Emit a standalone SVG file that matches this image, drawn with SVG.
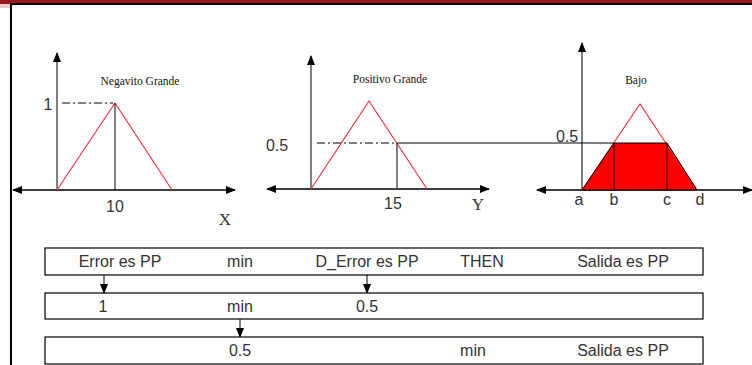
<svg xmlns="http://www.w3.org/2000/svg" width="752" height="365" viewBox="0 0 752 365">
<style>
.ax{stroke:#000;stroke-width:1.2;fill:none}
.yax{stroke:#555;stroke-width:1.5;fill:none}
.mf{stroke:#ff3333;stroke-width:1.2;fill:none}
.ln{stroke:#000;stroke-width:1;fill:none}
.dd{stroke:#000;stroke-width:1;stroke-dasharray:8 3 2 3;fill:none}
.box{fill:#fff;stroke:#000;stroke-width:1.2}
.t{font-family:"Liberation Sans",Arial,sans-serif;font-size:16px;fill:#333}
.s{font-family:"Liberation Serif","Times New Roman",serif;font-size:11.5px;fill:#111}
.sx{font-family:"Liberation Serif","Times New Roman",serif;font-size:17px;fill:#333}
</style>
<defs>
<marker id="ar" markerWidth="10" markerHeight="10" refX="9" refY="5" orient="auto" markerUnits="userSpaceOnUse">
<path d="M0,1 L10,5 L0,9 Z" fill="#000"/>
</marker>
</defs>
<rect width="752" height="365" fill="#fff"/>
<rect x="0" y="0" width="752" height="4" fill="#9b1620"/>
<rect x="0" y="4" width="11" height="4" fill="#e8c8c8"/>
<rect x="10" y="3" width="742" height="2" fill="#000"/>
<rect x="10" y="4" width="2" height="361" fill="#000"/>

<g id="chart-negativo">
<line class="ax" x1="13" y1="190" x2="235" y2="190" marker-end="url(#ar)"/>
<line class="ax" x1="235" y1="190" x2="13" y2="190" marker-end="url(#ar)"/>
<line class="yax" x1="57" y1="190" x2="57" y2="53" marker-end="url(#ar)"/>
<polyline class="mf" points="57,190 115,103 172,190"/>
<line class="ln" x1="115" y1="103" x2="115" y2="190"/>
<line class="dd" x1="62" y1="103" x2="113" y2="103"/>
<text class="s" x="140" y="85" text-anchor="middle">Negavito Grande</text>
<text class="t" x="48" y="110" text-anchor="middle">1</text>
<text class="t" x="115" y="212" text-anchor="middle">10</text>
<text class="sx" x="225" y="225" text-anchor="middle">X</text>
</g>

<g id="chart-positivo">
<line class="ax" x1="267" y1="189" x2="489" y2="189" marker-end="url(#ar)"/>
<line class="ax" x1="489" y1="189" x2="267" y2="189" marker-end="url(#ar)"/>
<line class="yax" x1="311" y1="189" x2="311" y2="56" marker-end="url(#ar)"/>
<polyline class="mf" points="311,189 369,101 427,189"/>
<line class="dd" x1="317" y1="143" x2="396" y2="143"/>
<line class="yax" x1="397" y1="143" x2="397" y2="189"/>
<text class="s" x="390" y="83" text-anchor="middle">Positivo Grande</text>
<text class="t" x="277" y="151" text-anchor="middle">0.5</text>
<text class="t" x="393" y="209" text-anchor="middle">15</text>
<text class="sx" x="478" y="210" text-anchor="middle">Y</text>
</g>

<g id="chart-bajo">
<line class="ax" x1="537" y1="190" x2="752" y2="190" marker-end="url(#ar)"/>
<line class="ax" x1="752" y1="190" x2="537" y2="190" marker-end="url(#ar)"/>
<polygon points="582,190 614,143 667,143 697,190" fill="#ff0000"/>
<line class="yax" x1="582" y1="190" x2="582" y2="43" marker-end="url(#ar)"/>
<polyline class="mf" points="582,190 640,104 697,190"/>
<polygon points="582,190 614,143 667,143 697,190" fill="none" stroke="#000" stroke-width="1"/>
<line class="ln" x1="614" y1="143" x2="614" y2="190"/>
<line class="ln" x1="667" y1="143" x2="667" y2="190"/>
<text class="s" x="636" y="84" text-anchor="middle">Bajo</text>
<text class="t" x="567" y="142" text-anchor="middle">0.5</text>
<text class="t" x="579" y="205" text-anchor="middle">a</text>
<text class="t" x="614" y="205" text-anchor="middle">b</text>
<text class="t" x="667" y="205" text-anchor="middle">c</text>
<text class="t" x="700" y="205" text-anchor="middle">d</text>
</g>

<g id="connectors">
<line class="ln" x1="397" y1="143" x2="614" y2="143"/>
<line class="ln" x1="104" y1="275" x2="104" y2="293" marker-end="url(#ar)"/>
<line class="ln" x1="367" y1="275" x2="367" y2="293" marker-end="url(#ar)"/>
<line class="ln" x1="240" y1="319" x2="240" y2="337" marker-end="url(#ar)"/>
</g>

<g id="row-rule">
<rect class="box" x="45" y="248" width="658" height="27"/>
<text class="t" x="120" y="267" text-anchor="middle">Error es PP</text>
<text class="t" x="240" y="267" text-anchor="middle">min</text>
<text class="t" x="367" y="267" text-anchor="middle">D_Error es PP</text>
<text class="t" x="482" y="267" text-anchor="middle">THEN</text>
<text class="t" x="623" y="267" text-anchor="middle">Salida es PP</text>
</g>

<g id="row-values">
<rect class="box" x="45" y="293" width="658" height="26"/>
<text class="t" x="103" y="312" text-anchor="middle">1</text>
<text class="t" x="240" y="312" text-anchor="middle">min</text>
<text class="t" x="367" y="312" text-anchor="middle">0.5</text>
</g>

<g id="row-result">
<rect class="box" x="45" y="337" width="658" height="27"/>
<text class="t" x="240" y="356" text-anchor="middle">0.5</text>
<text class="t" x="473" y="356" text-anchor="middle">min</text>
<text class="t" x="623" y="356" text-anchor="middle">Salida es PP</text>
</g>
</svg>
